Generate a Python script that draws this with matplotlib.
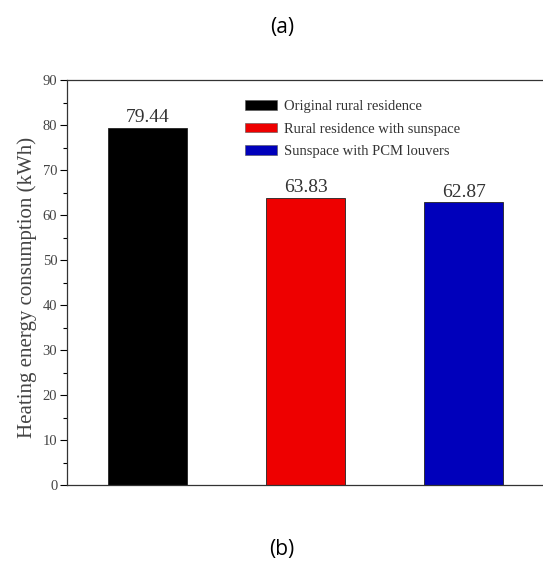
import matplotlib.pyplot as plt
from matplotlib.patches import Patch
from matplotlib.ticker import MultipleLocator

categories = ['Original rural residence', 'Rural residence with sunspace',
              'Sunspace with PCM louvers']
values = [79.44, 63.83, 62.87]
colors = ['#000000', '#ee0000', '#0000bb']

plt.rcParams['font.family'] = ['Liberation Serif', 'DejaVu Serif']

fig = plt.figure(figsize=(5.43, 5.63), dpi=100)
ax = fig.add_axes([67/543, 1 - 485/563, 1 - 67/543, (485 - 80)/563])

x = range(len(values))
ax.bar(x, values, width=0.5, color=colors, edgecolor='#222222', linewidth=0.6)
for xi, v in zip(x, values):
    ax.text(xi, v + 0.3, f'{v:.2f}', ha='center', va='bottom',
            fontsize=14, color='#333333')

ax.set_xlim(-0.51, 2.5)
ax.set_ylim(0, 90)
ax.yaxis.set_major_locator(MultipleLocator(10))
ax.yaxis.set_minor_locator(MultipleLocator(5))
ax.set_xticks([])
ax.tick_params(axis='y', which='major', direction='out', length=5,
               width=0.8, labelsize=10.5, labelcolor='#444444', pad=2)
ax.tick_params(axis='y', which='minor', direction='out', length=3, width=0.8)
ax.spines['right'].set_visible(False)
for s in ['left', 'top', 'bottom']:
    ax.spines[s].set_linewidth(0.9)
    ax.spines[s].set_color('#333333')
ax.set_ylabel('Heating energy consumption (kWh)', fontsize=15,
              color='#444444', va='center')
ax.yaxis.set_label_coords(-0.083, 0.489)

handles = [Patch(facecolor=c, edgecolor='#555555', linewidth=0.4) for c in colors]
fig.legend(handles, categories, loc='upper left',
           bbox_to_anchor=(232/543, 1 - 87/563), frameon=False,
           fontsize=10.5, handlelength=2.2, handleheight=0.65,
           labelspacing=0.65, handletextpad=0.45, labelcolor='#333333')

fig.text(282/543, 1 - 28/563, '(a)', ha='center', va='center', fontsize=15,
         family=['Open Sans', 'DejaVu Sans'])
fig.text(282/543, 1 - 549/563, '(b)', ha='center', va='center', fontsize=15,
         family=['Open Sans', 'DejaVu Sans'])

fig.savefig('out.png', dpi=100)
